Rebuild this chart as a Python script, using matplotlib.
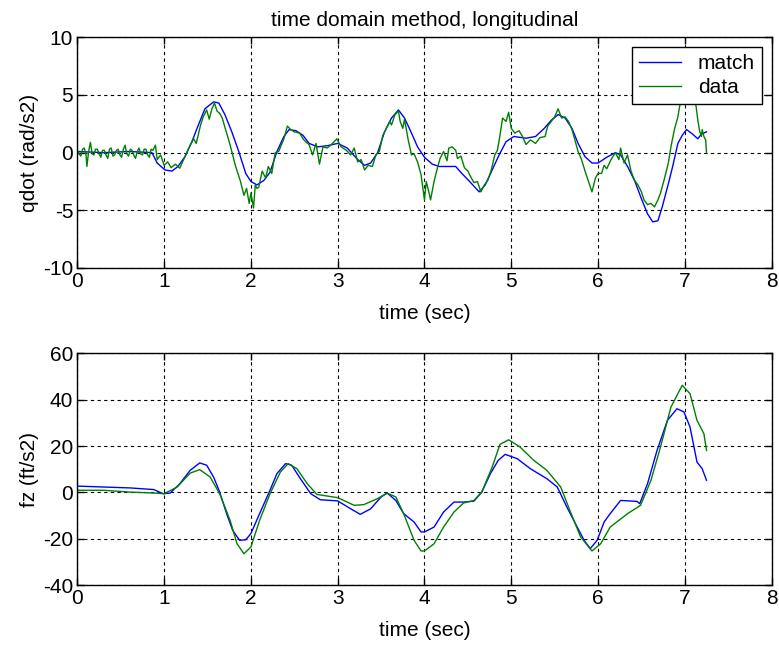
import matplotlib
matplotlib.use("Agg")
import matplotlib.pyplot as plt

plt.rcParams.update({
    "font.family": ["Liberation Sans", "DejaVu Sans"],
    "font.size": 15,
    "axes.unicode_minus": False,
    "xtick.direction": "in",
    "ytick.direction": "in",
    "xtick.top": True,
    "ytick.right": True,
    "axes.linewidth": 1.0,
})

BLUE = "#0000ff"
GREEN = "#008000"

# ---- top panel: qdot (rad/s2) ----
qdot_match_t = [0.0, 0.3, 0.6, 0.86, 0.92, 1.01, 1.09, 1.16, 1.24, 1.32, 1.40, 1.47,
                1.57, 1.63, 1.70, 1.78, 1.86, 1.94, 2.00, 2.07, 2.15, 2.22, 2.30,
                2.38, 2.44, 2.52, 2.60, 2.67, 2.77, 2.88, 3.00, 3.11, 3.23, 3.31,
                3.38, 3.46, 3.54, 3.62, 3.70, 3.77, 3.85, 3.92, 4.00, 4.09, 4.17,
                4.36, 4.43, 4.52, 4.63, 4.70, 4.78, 4.86, 4.94, 5.03, 5.17, 5.28,
                5.38, 5.46, 5.54, 5.62, 5.70, 5.77, 5.85, 5.93, 6.00, 6.10, 6.20,
                6.26, 6.34, 6.42, 6.50, 6.57, 6.63, 6.69, 6.74, 6.81, 6.86, 6.92,
                6.97, 7.02, 7.09, 7.15, 7.19, 7.25]
qdot_match = [0.1, 0.0, 0.1, 0.0, -0.9, -1.5, -1.6, -1.2, -0.35, 0.95, 2.5, 3.8,
              4.4, 4.3, 3.3, 1.8, 0.1, -1.8, -2.5, -2.8, -2.4, -1.7, 0.1,
              1.4, 2.0, 1.9, 1.5, 0.8, 0.5, 0.6, 0.8, 0.4, -0.6, -1.1,
              -0.9, 0.0, 1.8, 3.0, 3.7, 3.0, 1.7, 0.5, -0.4, -1.0, -1.2,
              -1.2, -1.8, -2.5, -3.4, -2.8, -1.5, -0.2, 0.95, 1.4, 1.25, 1.4,
              2.1, 2.8, 3.3, 3.0, 2.1, 0.8, -0.35, -0.9, -0.9, -0.4, 0.0,
              -0.2, -1.2, -2.4, -4.0, -5.3, -6.0, -5.9, -4.7, -2.7, -1.2, 0.8,
              1.5, 2.0, 1.6, 1.2, 1.6, 1.8]

qdot_data_t = [0.0, 0.02, 0.04, 0.06, 0.08, 0.10, 0.11, 0.13, 0.15, 0.17, 0.19,
               0.21, 0.23, 0.25, 0.27, 0.29, 0.31, 0.33, 0.35, 0.37, 0.39,
               0.41, 0.43, 0.45, 0.47, 0.49, 0.51, 0.53, 0.55, 0.57, 0.59, 0.61,
               0.63, 0.65, 0.67, 0.69, 0.71, 0.73, 0.75, 0.77, 0.79, 0.81, 0.83,
               0.85, 0.87, 0.90, 0.92, 0.96, 1.00, 1.04, 1.08, 1.13, 1.18, 1.24,
               1.30, 1.34, 1.37, 1.42, 1.45, 1.49, 1.52, 1.55, 1.58, 1.61, 1.64,
               1.67, 1.70, 1.74, 1.78, 1.82, 1.85, 1.88, 1.92, 1.95, 1.98, 2.00,
               2.03, 2.05, 2.07, 2.09, 2.13, 2.17, 2.20, 2.24, 2.28, 2.32, 2.38,
               2.42, 2.46, 2.50, 2.56, 2.61, 2.67, 2.71, 2.75, 2.79, 2.83, 2.88,
               2.94, 2.99, 3.04, 3.10, 3.15, 3.19, 3.23, 3.27, 3.31, 3.35, 3.40,
               3.44, 3.48, 3.52, 3.56, 3.60, 3.62, 3.66, 3.70, 3.72, 3.75, 3.77,
               3.81, 3.85, 3.88, 3.92, 3.96, 4.00, 4.02, 4.05, 4.07, 4.11, 4.15,
               4.18, 4.22, 4.26, 4.28, 4.32, 4.36, 4.38, 4.42, 4.46, 4.50, 4.54,
               4.57, 4.61, 4.65, 4.69, 4.73, 4.77, 4.81, 4.84, 4.87, 4.90, 4.94,
               4.97, 5.00, 5.04, 5.09, 5.13, 5.17, 5.22, 5.28, 5.33, 5.39, 5.42,
               5.46, 5.50, 5.54, 5.58, 5.62, 5.66, 5.70, 5.73, 5.77, 5.81, 5.85,
               5.89, 5.93, 5.97, 6.00, 6.04, 6.07, 6.10, 6.15, 6.20, 6.24, 6.26,
               6.30, 6.34, 6.38, 6.42, 6.46, 6.50, 6.53, 6.57, 6.61, 6.65, 6.69,
               6.72, 6.76, 6.81, 6.84, 6.88, 6.92, 6.94, 6.99, 7.05, 7.10, 7.13,
               7.15, 7.17, 7.19, 7.20, 7.22, 7.24, 7.25]
qdot_data = [0.2, -0.1, -0.3, 0.3, 0.4, -0.2, -1.2, 0.1, 0.9, -0.1, -0.2,
             0.3, 0.3, -0.1, -0.4, 0.2, 0.2, -0.2, -0.5, 0.3, 0.4,
             -0.3, -0.2, 0.2, 0.3, -0.2, -0.4, 0.3, 0.65, -0.1, -0.3, 0.3,
             0.2, -0.2, -0.5, 0.1, 0.4, -0.1, -0.2, 0.3, 0.3, -0.2, -0.4,
             0.3, 0.2, 0.65, -0.6, -0.2, -1.1, -0.8, -1.3, -1.0, -1.35, -0.35,
             0.65, 1.2, 0.8, 2.4, 3.1, 3.7, 2.9, 3.8, 4.3, 3.6, 3.4,
             3.0, 2.2, 1.2, 0.1, -1.1, -1.8, -2.5, -3.7, -3.1, -4.4, -3.5,
             -4.8, -2.8, -3.1, -3.0, -1.6, -2.2, -1.2, -1.8, 0.0, 0.1, 1.2,
             2.3, 2.0, 1.8, 1.7, 1.1, 0.7, -0.2, 0.8, -1.0, 0.5, 0.4,
             0.8, 1.2, 0.5, 0.2, -0.2, 0.4, -0.8, -0.6, -1.5, -1.1, -1.2,
             -0.2, 0.1, 1.5, 2.1, 2.7, 2.4, 3.3, 3.6, 2.7, 2.1, 2.9,
             1.2, -0.2, -0.1, -0.8, -1.9, -4.1, -2.5, -3.4, -4.1, -2.5, -1.3,
             -0.5, 0.1, -0.7, 0.4, 0.5, 0.2, -0.5, -0.3, -1.3, -1.6, -2.2,
             -2.6, -2.5, -3.4, -2.8, -2.4, -1.5, -0.2, 0.2, 1.5, 3.0, 2.7,
             3.5, 2.1, 1.7, 1.9, 1.4, 0.7, 1.1, 0.8, 1.3, 1.4, 2.3,
             2.7, 3.1, 3.8, 3.0, 3.1, 2.7, 2.0, 1.2, 0.1, -0.6, -1.6,
             -2.5, -3.4, -2.2, -1.8, -1.8, -1.1, -1.4, -0.6, 0.0, -0.6, 0.4,
             -0.9, -0.2, -1.6, -2.4, -2.8, -3.4, -4.1, -4.5, -4.4, -4.7, -4.1,
             -3.5, -2.4, -0.9, 0.5, 2.0, 3.1, 4.0, 6.0, 6.2, 5.0, 4.0,
             2.8, 1.9, 1.4, 2.0, 1.4, 1.1, 0.0]

# ---- bottom panel: fz (ft/s2) ----
fz_match_t = [0.0, 0.30, 0.61, 0.88, 0.99, 1.07, 1.18, 1.30, 1.41, 1.49, 1.57,
              1.64, 1.72, 1.79, 1.87, 1.94, 2.00, 2.10, 2.22, 2.30, 2.40, 2.47,
              2.57, 2.69, 2.80, 3.00, 3.15, 3.26, 3.38, 3.50, 3.57, 3.67, 3.76,
              3.88, 3.96, 4.00, 4.11, 4.22, 4.34, 4.45, 4.57, 4.66, 4.76, 4.85,
              4.93, 5.07, 5.22, 5.41, 5.53, 5.64, 5.76, 5.84, 5.91, 5.99, 6.07,
              6.14, 6.26, 6.45, 6.48, 6.57, 6.68, 6.80, 6.91, 6.99, 7.06, 7.14,
              7.20, 7.25]
fz_match = [2.7, 2.3, 1.9, 1.2, -0.6, -0.3, 3.7, 9.5, 12.7, 11.7, 6.6,
            0.1, -9.2, -16.4, -20.7, -20.5, -17.8, -9.2, 0.9, 8.1, 12.4, 11.7,
            5.9, -0.6, -3.2, -3.7, -7.1, -9.5, -7.1, -2.0, -0.3, -3.5, -9.2,
            -12.8, -17.1, -17.1, -15.0, -8.5, -4.2, -4.2, -3.8, 0.1, 8.1, 13.8,
            16.4, 14.5, 10.2, 5.9, 2.3, -6.3, -15.0, -20.7, -24.3, -20.7, -12.8,
            -9.2, -3.5, -3.9, -4.9, 3.7, 18.1, 31.1, 36.1, 34.7, 28.2, 13.1,
            10.2, 5.2]

fz_data_t = [0.0, 0.30, 0.61, 0.88, 1.00, 1.15, 1.30, 1.41, 1.53, 1.64, 1.76,
             1.84, 1.92, 2.00, 2.10, 2.22, 2.34, 2.43, 2.53, 2.65, 2.76, 3.00,
             3.19, 3.30, 3.46, 3.57, 3.67, 3.76, 3.88, 3.96, 4.00, 4.11, 4.22,
             4.34, 4.45, 4.57, 4.66, 4.78, 4.87, 4.97, 5.10, 5.26, 5.41, 5.57,
             5.69, 5.80, 5.93, 6.03, 6.14, 6.34, 6.49, 6.61, 6.72, 6.84, 6.97,
             7.06, 7.14, 7.22, 7.25]
fz_data = [0.9, 0.9, 0.1, -0.3, -0.6, 2.3, 8.3, 9.8, 6.6, -0.6, -12.1,
           -22.2, -26.5, -23.6, -12.1, -0.6, 8.8, 12.4, 10.2, 3.7, -0.9, -2.3,
           -5.6, -5.3, -2.7, -0.3, -2.0, -9.2, -20.7, -25.3, -25.3, -22.2, -15.0,
           -8.5, -4.6, -3.5, 0.1, 10.9, 20.7, 22.7, 19.6, 13.8, 9.5, 2.3,
           -9.2, -19.3, -25.3, -22.2, -15.0, -9.2, -5.6, 5.2, 19.6, 36.8, 46.2,
           42.6, 31.1, 25.3, 18.1]

fig = plt.figure(figsize=(7.79, 6.45), dpi=100)
ax1 = fig.add_axes([0.0993, 0.5845, 0.8912, 0.3577])
ax2 = fig.add_axes([0.0993, 0.0930, 0.8912, 0.3592])

ax1.plot(qdot_match_t, qdot_match, color=BLUE, lw=1.0, label="match")
ax1.plot(qdot_data_t, qdot_data, color=GREEN, lw=1.0, label="data")
ax1.set_xlim(0, 8)
ax1.set_ylim(-10, 10)
ax1.set_yticks([-10, -5, 0, 5, 10])
ax1.set_xlabel("time (sec)", labelpad=9)
ax1.set_ylabel("qdot (rad/s2)", labelpad=3)
ax1.set_title("time domain method, longitudinal", fontsize=15, pad=8)
leg = ax1.legend(loc="upper right", fancybox=False, framealpha=1.0,
                 edgecolor="black", borderaxespad=0.45, handlelength=2.0,
                 handletextpad=0.8, fontsize=15, borderpad=0.35,
                 labelspacing=0.25)
leg.get_frame().set_linewidth(1.0)
leg.set_zorder(10)

ax2.plot(fz_match_t, fz_match, color=BLUE, lw=1.0)
ax2.plot(fz_data_t, fz_data, color=GREEN, lw=1.0)
ax2.set_xlim(0, 8)
ax2.set_ylim(-40, 60)
ax2.set_yticks([-40, -20, 0, 20, 40, 60])
ax2.set_xlabel("time (sec)", labelpad=9)
ax2.set_ylabel("fz (ft/s2)", labelpad=3)

for ax in (ax1, ax2):
    ax.grid(True, color="black", linestyle=(0, (3, 3)), linewidth=0.8)
    ax.tick_params(length=5, width=1.0, labelsize=15, pad=3)

fig.savefig("out.png", dpi=100)
